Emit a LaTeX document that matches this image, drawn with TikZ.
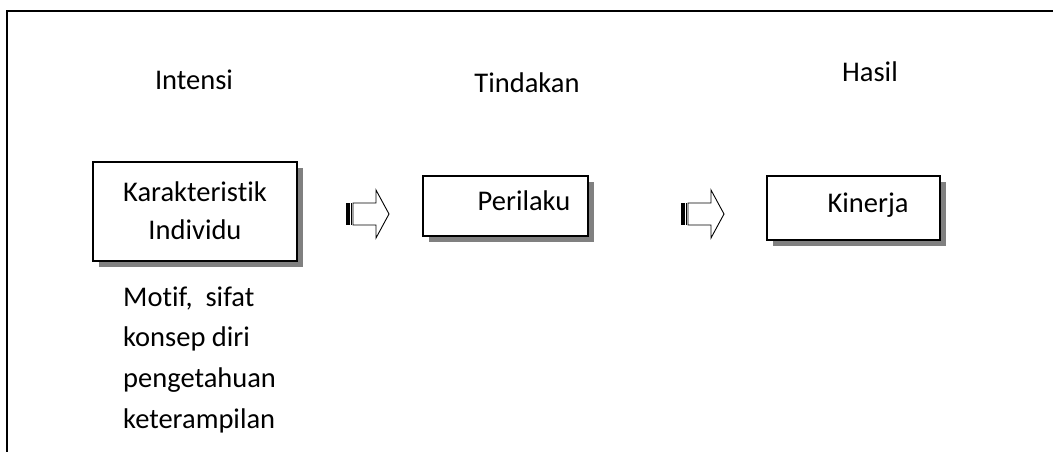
\documentclass[tikz,border=0pt]{standalone}
\usepackage{fontspec}
\setmainfont{Carlito}[Ligatures={NoCommon}]
\usetikzlibrary{shadows}
\begin{document}
\begin{tikzpicture}[x=1pt,y=-1pt,
  txt/.style={inner sep=0pt,anchor=base,font=\fontsize{28.5}{40}\selectfont},
  framebox/.style={draw=black,line width=1.3pt,fill=white,inner sep=0pt,
    drop shadow={shadow xshift=6pt,shadow yshift=-6pt,fill=black!50,opacity=1}},
  stripearrow/.pic={
    \fill[black] (0,-11) rectangle (4,11);
    \draw[line width=0.9pt] (5.8,-11) -- (5.8,11);
    \draw[line width=0.9pt,line join=miter,fill=white]
      (7,-11) -- (30,-11) -- (30,-24) -- (43,0) -- (30,24) -- (30,11) -- (7,11) -- cycle;
  }]
\useasboundingbox (0,0) rectangle (1053,451);
\clip (0,0) rectangle (1053,451);

% open frame: left and top edges
\coordinate (fb) at (7,460);
\coordinate (ft) at (7,11);
\coordinate (fr) at (1060,11);
\draw[line width=1.5pt] (fb) -- (ft) -- (fr);

% column headings
\node[txt] (intensi) at (194,89) {Intensi};
\node[txt] (tindakan) at (527,92) {Tindakan};
\node[txt] (hasil) at (870,81) {Hasil};

% boxes
\node[framebox,minimum width=204pt,minimum height=99pt] (indiv) at (195,211.5) {};
\node[framebox,minimum width=165pt,minimum height=60pt] (perilaku) at (505.5,206) {};
\node[framebox,minimum width=173pt,minimum height=64pt] (kinerja) at (853.5,208) {};

\node[txt] (k1) at (195,201) {Karakteristik};
\node[txt] (k2) at (195,239) {Individu};
\node[txt] (ptxt) at (524,210) {Perilaku};
\node[txt] (ktxt) at (868,212) {Kinerja};

% block arrows between the boxes
\pic (arrowA) at (346,214) {stripearrow};
\pic (arrowB) at (681,214) {stripearrow};

% list under the first box
\node[txt,anchor=base west] (m1) at (123,306) {Motif,\ \ sifat};
\node[txt,anchor=base west] (m2) at (123,346) {konsep diri};
\node[txt,anchor=base west] (m3) at (123,387) {pengetahuan};
\node[txt,anchor=base west] (m4) at (123,428) {keterampilan};
\end{tikzpicture}
\end{document}
